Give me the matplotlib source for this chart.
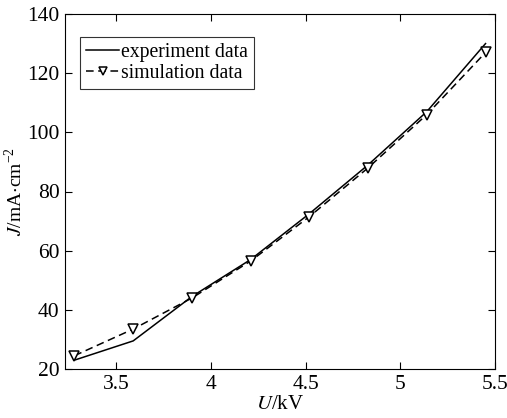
import matplotlib
matplotlib.use("Agg")
import matplotlib.pyplot as plt

# data
voltage = [3.28, 3.59, 3.90, 4.21, 4.52, 4.83, 5.14, 5.45]
experiment = [23.0, 29.5, 44.5, 57.0, 72.5, 89.0, 107.0, 130.0]
simulation = [24.5, 33.5, 44.0, 56.5, 71.5, 88.0, 106.0, 127.0]

plt.rcParams['font.family'] = ['Liberation Serif', 'DejaVu Serif']
plt.rcParams['mathtext.fontset'] = 'stix'

fig = plt.figure(figsize=(5.07, 4.18), dpi=100)
ax = fig.add_axes([65 / 507, 1 - 369 / 418, 430 / 507, 355 / 418])

ax.plot(voltage, experiment, color='black', lw=1.1, label='experiment data')
ax.plot(voltage, simulation, color='black', lw=1.1, ls=(0, (5, 3)), marker='v',
        markersize=7, markerfacecolor='white', markeredgecolor='black',
        markeredgewidth=1.1, label='simulation data')

ax.set_xlim(3.23, 5.5)
ax.set_ylim(20, 140)
ax.set_xticks([3.5, 4, 4.5, 5, 5.5])
ax.set_xticklabels(['3.5', '4', '4.5', '5', '5.5'])
ax.set_yticks(range(20, 141, 20))
ax.tick_params(direction='in', top=True, right=True, labelsize=15.5, length=5, pad=4)
for s in ax.spines.values():
    s.set_linewidth(0.8)

ax.set_xlabel(r'$\mathit{U}$/kV', fontsize=15, labelpad=1)
ax.set_ylabel(r'$\mathit{J}$/mA$\cdot$cm$^{\mathregular{-2}}$', fontsize=14, labelpad=1)

leg = ax.legend(loc='upper left', bbox_to_anchor=(0.035, 0.935), fontsize=14.2,
                frameon=True, fancybox=False, edgecolor='black',
                handlelength=1.7, handletextpad=0.1, borderpad=0.3,
                labelspacing=0.12, borderaxespad=0, markerscale=0.8)
leg.get_frame().set_linewidth(0.8)

fig.savefig('out.png', dpi=100)
